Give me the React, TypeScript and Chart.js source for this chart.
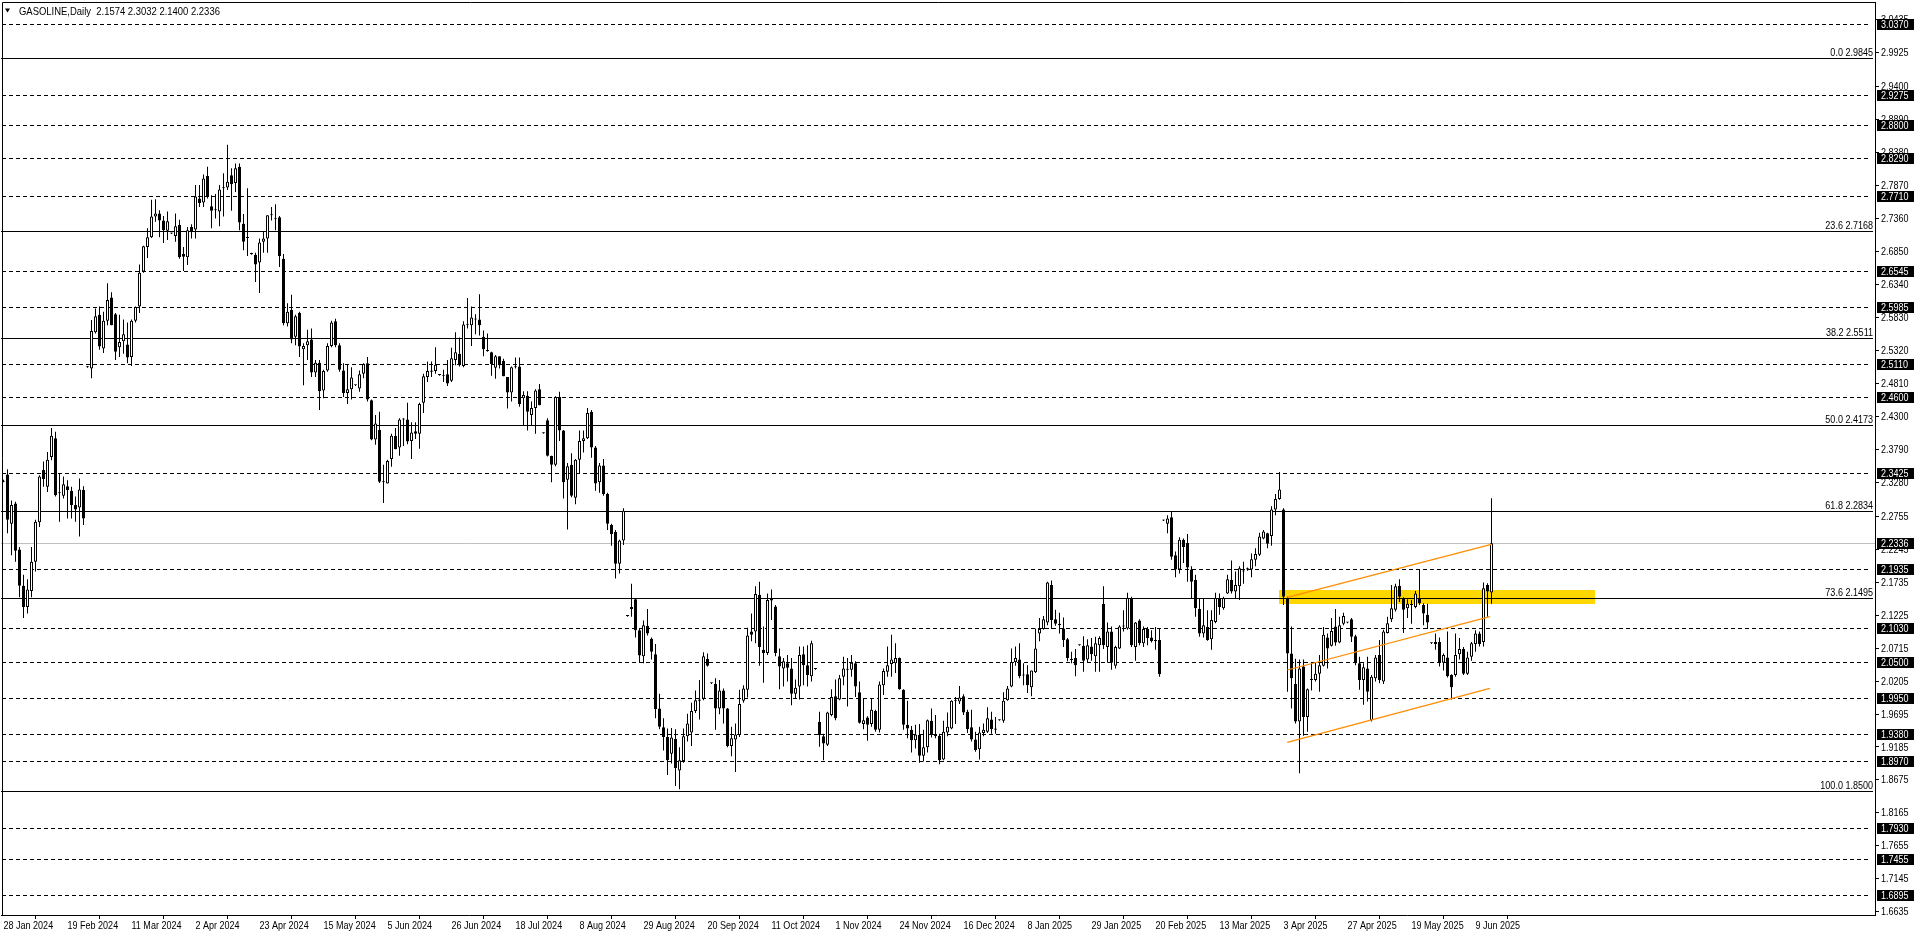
import React, { useEffect, useRef } from 'react';
import { Chart, registerables } from 'chart.js';

Chart.register(...registerables);

// ---------------- DATA ----------------
const OPEN = [
  2.330, 2.340, 2.264, 2.295, 2.224, 2.168, 2.135, 2.160, 2.205, 2.266,
  2.347, 2.321, 2.367, 2.396, 2.312, 2.307, 2.322, 2.315, 2.293, 2.289,
  2.316, 2.506, 2.504, 2.560, 2.587, 2.535, 2.578, 2.614, 2.588, 2.537,
  2.546, 2.541, 2.522, 2.578, 2.600, 2.654, 2.692, 2.707, 2.739, 2.744,
  2.733, 2.717, 2.713, 2.709, 2.726, 2.681, 2.676, 2.723, 2.719, 2.767,
  2.761, 2.802, 2.755, 2.749, 2.747, 2.783, 2.784, 2.803, 2.791, 2.816,
  2.728, 2.706, 2.681, 2.680, 2.668, 2.700, 2.705, 2.741, 2.735, 2.738,
  2.674, 2.574, 2.595, 2.553, 2.590, 2.534, 2.540, 2.549, 2.498, 2.513,
  2.470, 2.501, 2.539, 2.577, 2.540, 2.501, 2.466, 2.472, 2.478, 2.473,
  2.496, 2.512, 2.455, 2.394, 2.409, 2.329, 2.326, 2.364, 2.400, 2.382,
  2.425, 2.425, 2.392, 2.407, 2.403, 2.451, 2.491, 2.501, 2.500, 2.494,
  2.493, 2.495, 2.485, 2.517, 2.527, 2.508, 2.571, 2.571, 2.581, 2.580,
  2.553, 2.532, 2.529, 2.505, 2.523, 2.516, 2.491, 2.467, 2.506, 2.507,
  2.458, 2.462, 2.432, 2.443, 2.472, 2.404, 2.424, 2.369, 2.355, 2.460,
  2.408, 2.332, 2.355, 2.304, 2.363, 2.392, 2.396, 2.437, 2.382, 2.328,
  2.354, 2.310, 2.262, 2.251, 2.202, 2.238, 2.121, 2.132, 2.147, 2.099,
  2.059, 2.106, 2.086, 2.062, 1.978, 1.949, 1.934, 1.908, 1.931, 1.882,
  1.897, 1.935, 1.941, 1.974, 1.990, 1.993, 2.055, 2.017, 2.016, 1.978,
  2.006, 1.978, 1.920, 1.930, 1.937, 1.990, 2.007, 2.097, 2.097, 2.154,
  2.069, 2.064, 2.149, 2.136, 2.059, 2.040, 2.048, 2.040, 2.001, 2.012,
  2.062, 2.045, 2.028, 2.039, 1.957, 1.935, 1.922, 1.968, 1.997, 1.992,
  2.027, 2.038, 2.038, 2.048, 2.003, 1.954, 1.964, 1.954, 1.974, 1.945,
  2.014, 2.035, 2.047, 2.048, 2.056, 2.007, 1.953, 1.945, 1.929, 1.937,
  1.905, 1.918, 1.959, 1.937, 1.936, 1.899, 1.941, 1.947, 1.990, 1.989,
  1.997, 1.973, 1.949, 1.930, 1.915, 1.940, 1.942, 1.961, 1.947, 1.960,
  1.959, 1.991, 2.012, 2.050, 2.054, 2.030, 2.031, 2.011, 2.034, 2.094,
  2.101, 2.111, 2.169, 2.116, 2.109, 2.102, 2.085, 2.055, 2.056, 2.076,
  2.075, 2.054, 2.074, 2.059, 2.076, 2.140, 2.073, 2.097, 2.044, 2.071,
  2.105, 2.102, 2.149, 2.073, 2.114, 2.079, 2.101, 2.088, 2.084, 2.084,
  2.269, 2.264, 2.274, 2.215, 2.193, 2.239, 2.234, 2.193, 2.177, 2.132,
  2.094, 2.104, 2.085, 2.112, 2.149, 2.133, 2.156, 2.177, 2.159, 2.167,
  2.190, 2.193, 2.193, 2.208, 2.216, 2.241, 2.249, 2.245, 2.286, 2.302,
  2.286, 2.148, 2.063, 2.016, 1.958, 2.043, 1.965, 2.024, 2.022, 2.032,
  2.044, 2.088, 2.075, 2.105, 2.080, 2.109, 2.111, 2.116, 2.090, 2.048,
  2.022, 2.040, 1.960, 2.025, 2.061, 2.020, 2.095, 2.116, 2.131, 2.168,
  2.149, 2.133, 2.138, 2.135, 2.149, 2.138, 2.123, 2.079, 2.078, 2.081,
  2.049, 2.057, 2.030, 2.030, 2.062, 2.070, 2.032, 2.058, 2.078, 2.094,
  2.081, 2.169, 2.1574,
];

const HIGH = [
  2.332, 2.348, 2.300, 2.298, 2.228, 2.185, 2.178, 2.228, 2.270, 2.339,
  2.360, 2.375, 2.412, 2.406, 2.342, 2.337, 2.331, 2.321, 2.306, 2.334,
  2.322, 2.508, 2.579, 2.597, 2.600, 2.592, 2.636, 2.622, 2.590, 2.587,
  2.580, 2.575, 2.580, 2.600, 2.665, 2.694, 2.721, 2.765, 2.766, 2.749,
  2.740, 2.747, 2.714, 2.744, 2.734, 2.692, 2.723, 2.727, 2.788, 2.788,
  2.804, 2.816, 2.772, 2.774, 2.788, 2.806, 2.850, 2.814, 2.821, 2.821,
  2.743, 2.783, 2.683, 2.683, 2.705, 2.716, 2.741, 2.754, 2.758, 2.740,
  2.681, 2.605, 2.618, 2.587, 2.592, 2.543, 2.564, 2.566, 2.517, 2.517,
  2.502, 2.543, 2.578, 2.581, 2.543, 2.512, 2.510, 2.506, 2.479, 2.501,
  2.512, 2.522, 2.456, 2.432, 2.437, 2.355, 2.363, 2.403, 2.412, 2.427,
  2.427, 2.451, 2.421, 2.421, 2.451, 2.496, 2.515, 2.515, 2.537, 2.495,
  2.502, 2.517, 2.536, 2.560, 2.552, 2.577, 2.613, 2.600, 2.588, 2.619,
  2.563, 2.558, 2.530, 2.525, 2.523, 2.519, 2.491, 2.507, 2.521, 2.521,
  2.469, 2.469, 2.453, 2.472, 2.480, 2.405, 2.427, 2.369, 2.461, 2.468,
  2.409, 2.358, 2.373, 2.364, 2.408, 2.408, 2.443, 2.440, 2.384, 2.358,
  2.364, 2.312, 2.264, 2.254, 2.239, 2.288, 2.122, 2.171, 2.148, 2.102,
  2.114, 2.132, 2.088, 2.078, 2.001, 1.963, 1.947, 1.948, 1.946, 1.918,
  1.947, 1.970, 1.987, 2.006, 2.022, 2.065, 2.063, 2.018, 2.025, 2.022,
  2.009, 1.979, 1.950, 1.955, 2.007, 2.014, 2.103, 2.125, 2.167, 2.174,
  2.105, 2.156, 2.162, 2.138, 2.071, 2.056, 2.061, 2.056, 2.023, 2.074,
  2.074, 2.076, 2.083, 2.040, 1.973, 1.939, 1.973, 2.008, 2.023, 2.030,
  2.058, 2.056, 2.061, 2.051, 2.020, 1.994, 1.966, 1.994, 1.976, 2.020,
  2.040, 2.074, 2.092, 2.079, 2.057, 2.008, 1.990, 1.951, 1.953, 1.954,
  1.945, 1.961, 1.978, 1.968, 1.939, 1.959, 1.972, 1.991, 1.996, 2.013,
  2.000, 1.976, 1.976, 1.942, 1.950, 1.955, 1.980, 1.973, 1.965, 1.961,
  2.003, 2.013, 2.071, 2.074, 2.079, 2.048, 2.045, 2.037, 2.102, 2.118,
  2.121, 2.174, 2.176, 2.131, 2.126, 2.119, 2.087, 2.066, 2.070, 2.077,
  2.090, 2.085, 2.087, 2.089, 2.090, 2.167, 2.111, 2.105, 2.075, 2.107,
  2.130, 2.157, 2.151, 2.112, 2.116, 2.105, 2.104, 2.099, 2.104, 2.102,
  2.270, 2.277, 2.283, 2.221, 2.243, 2.241, 2.248, 2.198, 2.185, 2.148,
  2.148, 2.130, 2.130, 2.157, 2.156, 2.151, 2.185, 2.207, 2.190, 2.198,
  2.205, 2.196, 2.218, 2.226, 2.250, 2.254, 2.250, 2.291, 2.310, 2.344,
  2.288, 2.151, 2.105, 2.055, 2.054, 2.054, 2.009, 2.050, 2.050, 2.061,
  2.104, 2.094, 2.118, 2.132, 2.120, 2.126, 2.112, 2.118, 2.092, 2.058,
  2.048, 2.058, 2.030, 2.061, 2.084, 2.100, 2.120, 2.169, 2.171, 2.178,
  2.150, 2.147, 2.146, 2.160, 2.193, 2.141, 2.140, 2.080, 2.094, 2.088,
  2.063, 2.097, 2.031, 2.094, 2.087, 2.073, 2.066, 2.081, 2.099, 2.097,
  2.173, 2.172, 2.3032,
];

const LOW = [
  2.328, 2.249, 2.215, 2.205, 2.150, 2.118, 2.125, 2.150, 2.190, 2.259,
  2.321, 2.313, 2.362, 2.306, 2.267, 2.303, 2.272, 2.272, 2.267, 2.244,
  2.262, 2.505, 2.489, 2.558, 2.533, 2.528, 2.571, 2.571, 2.517, 2.522,
  2.527, 2.512, 2.508, 2.575, 2.590, 2.652, 2.675, 2.706, 2.731, 2.707,
  2.698, 2.703, 2.712, 2.700, 2.674, 2.655, 2.664, 2.705, 2.705, 2.754,
  2.754, 2.767, 2.721, 2.736, 2.724, 2.739, 2.780, 2.748, 2.777, 2.718,
  2.687, 2.678, 2.680, 2.638, 2.621, 2.683, 2.683, 2.733, 2.718, 2.661,
  2.571, 2.569, 2.543, 2.540, 2.522, 2.478, 2.517, 2.491, 2.491, 2.440,
  2.458, 2.499, 2.537, 2.537, 2.499, 2.460, 2.449, 2.456, 2.477, 2.468,
  2.489, 2.453, 2.393, 2.386, 2.327, 2.296, 2.326, 2.352, 2.379, 2.369,
  2.384, 2.387, 2.364, 2.395, 2.380, 2.435, 2.483, 2.491, 2.496, 2.493,
  2.483, 2.477, 2.483, 2.509, 2.507, 2.506, 2.566, 2.539, 2.557, 2.555,
  2.523, 2.530, 2.493, 2.488, 2.504, 2.492, 2.442, 2.453, 2.504, 2.445,
  2.416, 2.408, 2.416, 2.403, 2.447, 2.403, 2.368, 2.328, 2.353, 2.392,
  2.303, 2.255, 2.305, 2.294, 2.342, 2.374, 2.395, 2.366, 2.315, 2.312,
  2.307, 2.254, 2.230, 2.179, 2.187, 2.231, 2.120, 2.120, 2.088, 2.050,
  2.048, 2.091, 2.054, 1.963, 1.946, 1.913, 1.875, 1.893, 1.858, 1.853,
  1.894, 1.927, 1.920, 1.971, 1.961, 1.991, 2.043, 2.016, 1.945, 1.969,
  1.955, 1.918, 1.904, 1.880, 1.934, 1.987, 1.995, 2.082, 2.079, 2.044,
  2.018, 2.061, 2.115, 2.059, 2.008, 2.012, 2.020, 1.983, 1.994, 1.992,
  2.014, 2.012, 2.020, 2.038, 1.919, 1.898, 1.920, 1.966, 1.960, 1.991,
  2.014, 1.981, 2.027, 1.996, 1.955, 1.946, 1.928, 1.950, 1.942, 1.941,
  1.999, 2.027, 2.027, 2.033, 2.007, 1.945, 1.932, 1.910, 1.916, 1.894,
  1.896, 1.910, 1.933, 1.932, 1.892, 1.898, 1.935, 1.946, 1.954, 1.985,
  1.968, 1.940, 1.927, 1.911, 1.899, 1.935, 1.940, 1.939, 1.939, 1.959,
  1.956, 1.990, 2.011, 2.044, 2.025, 2.014, 2.002, 1.997, 2.033, 2.082,
  2.100, 2.107, 2.101, 2.106, 2.094, 2.073, 2.051, 2.048, 2.028, 2.075,
  2.035, 2.050, 2.052, 2.035, 2.035, 2.070, 2.049, 2.038, 2.040, 2.070,
  2.097, 2.100, 2.073, 2.052, 2.076, 2.073, 2.076, 2.080, 2.069, 2.027,
  2.268, 2.249, 2.208, 2.181, 2.187, 2.203, 2.174, 2.148, 2.120, 2.089,
  2.088, 2.083, 2.069, 2.110, 2.123, 2.131, 2.155, 2.156, 2.148, 2.146,
  2.171, 2.191, 2.181, 2.198, 2.214, 2.240, 2.226, 2.230, 2.277, 2.301,
  2.138, 2.004, 1.978, 1.955, 1.878, 1.936, 1.942, 2.006, 2.020, 2.004,
  2.043, 2.040, 2.074, 2.075, 2.079, 2.107, 2.110, 2.081, 2.045, 2.007,
  1.984, 1.989, 1.958, 2.020, 2.017, 2.016, 2.094, 2.112, 2.128, 2.143,
  2.095, 2.118, 2.109, 2.133, 2.138, 2.107, 2.101, 2.078, 2.069, 2.043,
  2.037, 2.026, 1.992, 2.027, 2.054, 2.030, 2.030, 2.052, 2.066, 2.074,
  2.074, 2.120, 2.1400,
];

const CLOSE = [
  2.329, 2.270, 2.293, 2.222, 2.168, 2.135, 2.162, 2.205, 2.267, 2.337,
  2.333, 2.363, 2.400, 2.308, 2.311, 2.325, 2.316, 2.293, 2.286, 2.317,
  2.272, 2.506, 2.562, 2.585, 2.538, 2.578, 2.610, 2.571, 2.530, 2.545,
  2.557, 2.521, 2.578, 2.599, 2.652, 2.693, 2.707, 2.739, 2.744, 2.733,
  2.718, 2.732, 2.713, 2.724, 2.676, 2.677, 2.718, 2.716, 2.770, 2.760,
  2.798, 2.770, 2.748, 2.749, 2.781, 2.783, 2.793, 2.789, 2.814, 2.730,
  2.700, 2.706, 2.681, 2.665, 2.699, 2.705, 2.741, 2.741, 2.735, 2.678,
  2.574, 2.592, 2.549, 2.585, 2.538, 2.539, 2.546, 2.498, 2.513, 2.469,
  2.500, 2.539, 2.575, 2.540, 2.502, 2.466, 2.472, 2.490, 2.478, 2.495,
  2.511, 2.456, 2.394, 2.419, 2.329, 2.328, 2.361, 2.400, 2.379, 2.425,
  2.425, 2.391, 2.405, 2.403, 2.449, 2.492, 2.500, 2.499, 2.510, 2.494,
  2.494, 2.481, 2.520, 2.529, 2.509, 2.572, 2.572, 2.583, 2.580, 2.571,
  2.534, 2.531, 2.511, 2.523, 2.509, 2.492, 2.467, 2.506, 2.506, 2.449,
  2.463, 2.437, 2.443, 2.470, 2.447, 2.404, 2.369, 2.355, 2.460, 2.408,
  2.328, 2.353, 2.307, 2.363, 2.392, 2.396, 2.435, 2.382, 2.326, 2.354,
  2.310, 2.264, 2.248, 2.202, 2.238, 2.284, 2.121, 2.135, 2.099, 2.060,
  2.107, 2.094, 2.066, 1.977, 1.950, 1.934, 1.898, 1.933, 1.886, 1.898,
  1.935, 1.955, 1.974, 1.991, 1.992, 2.059, 2.044, 2.017, 1.978, 2.006,
  1.978, 1.920, 1.932, 1.938, 1.985, 2.009, 2.091, 2.092, 2.155, 2.073,
  2.064, 2.146, 2.145, 2.064, 2.043, 2.051, 2.041, 2.001, 2.010, 2.061,
  2.045, 2.030, 2.079, 2.039, 1.937, 1.924, 1.972, 1.996, 1.963, 2.025,
  2.040, 2.038, 2.049, 2.012, 1.956, 1.960, 1.953, 1.976, 1.945, 2.015,
  2.036, 2.045, 2.054, 2.056, 2.008, 1.953, 1.947, 1.929, 1.938, 1.905,
  1.918, 1.960, 1.937, 1.935, 1.898, 1.942, 1.950, 1.990, 1.990, 1.995,
  1.972, 1.946, 1.930, 1.914, 1.941, 1.945, 1.963, 1.946, 1.945, 1.960,
  1.990, 2.009, 2.050, 2.056, 2.028, 2.029, 2.014, 2.037, 2.071, 2.101,
  2.116, 2.173, 2.115, 2.109, 2.107, 2.084, 2.056, 2.053, 2.045, 2.076,
  2.052, 2.076, 2.062, 2.079, 2.087, 2.076, 2.097, 2.049, 2.073, 2.105,
  2.105, 2.149, 2.076, 2.111, 2.079, 2.101, 2.087, 2.082, 2.082, 2.031,
  2.269, 2.272, 2.213, 2.193, 2.239, 2.228, 2.196, 2.174, 2.133, 2.094,
  2.107, 2.084, 2.115, 2.149, 2.135, 2.149, 2.178, 2.159, 2.169, 2.195,
  2.191, 2.195, 2.209, 2.217, 2.244, 2.252, 2.233, 2.286, 2.302, 2.317,
  2.151, 2.063, 2.025, 1.958, 2.040, 1.965, 2.008, 2.022, 2.032, 2.045,
  2.092, 2.071, 2.098, 2.080, 2.107, 2.121, 2.111, 2.089, 2.048, 2.022,
  2.042, 2.004, 2.027, 2.057, 2.022, 2.097, 2.110, 2.133, 2.167, 2.151,
  2.131, 2.140, 2.138, 2.156, 2.141, 2.125, 2.111, 2.079, 2.081, 2.050,
  2.061, 2.028, 2.011, 2.061, 2.070, 2.032, 2.057, 2.079, 2.094, 2.078,
  2.164, 2.159, 2.2336,
];

const X_TICK_BARS = [0, 16, 32, 48, 64, 80, 96, 112, 128, 144, 160, 176, 192, 208, 224, 240, 256, 272, 288, 304, 320, 336, 352, 368];
const X_TICK_LABELS = [
  '28 Jan 2024', '19 Feb 2024', '11 Mar 2024', '2 Apr 2024', '23 Apr 2024', '15 May 2024',
  '5 Jun 2024', '26 Jun 2024', '18 Jul 2024', '8 Aug 2024', '29 Aug 2024', '20 Sep 2024',
  '11 Oct 2024', '1 Nov 2024', '24 Nov 2024', '16 Dec 2024', '8 Jan 2025', '29 Jan 2025',
  '20 Feb 2025', '13 Mar 2025', '3 Apr 2025', '27 Apr 2025', '19 May 2025', '9 Jun 2025',
];

const Y_TICKS = [
  3.0435, 2.9925, 2.9400, 2.8890, 2.8380, 2.7870, 2.7360, 2.6850, 2.6340, 2.5830,
  2.5320, 2.4810, 2.4300, 2.3790, 2.3280, 2.2755, 2.2245, 2.1735, 2.1225, 2.0715,
  2.0205, 1.9695, 1.9185, 1.8675, 1.8165, 1.7655, 1.7145, 1.6635,
];

const DASHED_LEVELS = [
  3.0370, 2.9275, 2.8800, 2.8290, 2.7710, 2.6545, 2.5985, 2.5110, 2.4600, 2.3425,
  2.1935, 2.1030, 2.0500, 1.9950, 1.9380, 1.8970, 1.7930, 1.7455, 1.6895,
];

const FIB_PCTS = [0.0, 23.6, 38.2, 50.0, 61.8, 73.6, 100.0];
const FIB_PRICES = [2.9845, 2.7168, 2.5511, 2.4173, 2.2834, 2.1495, 1.8500];

const LAST_PRICE = 2.2336;
const TITLE = 'GASOLINE,Daily  2.1574 2.3032 2.1400 2.2336';

const ZONE_BARS = [318.9, 397.9];
const ZONE_PRICES = [2.140, 2.162];

const CHANNEL_UPPER = [{ x: 320.95, y: 2.150 }, { x: 371.95, y: 2.232 }];
const CHANNEL_MIDDLE = [{ x: 320.95, y: 2.0376 }, { x: 371.6, y: 2.1202 }];
const CHANNEL_LOWER = [{ x: 320.95, y: 1.9257 }, { x: 371.6, y: 2.0093 }];

// ---------------- STYLE ----------------
const FAMILY = "'Liberation Sans', Arial, sans-serif";
const FONT = `11px ${FAMILY}`;
const SX = 0.82; // horizontal condensing of the small terminal font
const W = 1916;
const H = 936;

function drawText(ctx: CanvasRenderingContext2D, text: string, x: number, y: number, align: CanvasTextAlign, color: string, sx = SX) {
  ctx.save();
  ctx.translate(x, y);
  ctx.scale(sx, 1);
  ctx.fillStyle = color;
  ctx.textAlign = align;
  ctx.fillText(text, 0, 0);
  ctx.restore();
}

const overlay = {
  id: 'overlay',
  beforeDraw(chart: any) {
    const { ctx } = chart;
    ctx.save();
    ctx.fillStyle = '#ffffff';
    ctx.fillRect(0, 0, chart.width, chart.height);
    ctx.restore();
  },
  beforeDatasetsDraw(chart: any) {
    const { ctx, chartArea: a, scales } = chart;
    const x = scales.x;
    const y = scales.y;
    ctx.save();
    ctx.beginPath();
    ctx.rect(a.left, a.top, a.right - a.left, a.bottom - a.top);
    ctx.clip();

    // yellow zone
    const zx0 = x.getPixelForValue(ZONE_BARS[0]);
    const zx1 = x.getPixelForValue(ZONE_BARS[1]);
    const zy0 = y.getPixelForValue(ZONE_PRICES[1]);
    const zy1 = y.getPixelForValue(ZONE_PRICES[0]);
    ctx.fillStyle = '#FFD700';
    ctx.fillRect(Math.round(zx0), Math.round(zy0), Math.round(zx1 - zx0), Math.round(zy1 - zy0));

    // last price line
    ctx.strokeStyle = '#C0C0C0';
    ctx.lineWidth = 1;
    let py = Math.round(y.getPixelForValue(LAST_PRICE)) + 0.5;
    ctx.beginPath();
    ctx.moveTo(a.left, py);
    ctx.lineTo(a.right, py);
    ctx.stroke();

    // dashed horizontal levels
    ctx.strokeStyle = '#000000';
    ctx.setLineDash([4, 3]);
    for (const v of DASHED_LEVELS) {
      py = Math.round(y.getPixelForValue(v)) + 0.5;
      ctx.beginPath();
      ctx.moveTo(a.left + 1, py);
      ctx.lineTo(a.right - 4, py);
      ctx.stroke();
    }
    ctx.setLineDash([]);

    // fibonacci levels
    ctx.font = FONT;
    ctx.textBaseline = 'alphabetic';
    FIB_PRICES.forEach((v, i) => {
      py = Math.round(y.getPixelForValue(v)) + 0.5;
      ctx.beginPath();
      ctx.moveTo(a.left, py);
      ctx.lineTo(a.right - 2, py);
      ctx.stroke();
      drawText(ctx, `${FIB_PCTS[i].toFixed(1)} ${v.toFixed(4)}`, a.right - 2, py - 2.5, 'right', '#000000');
    });
    ctx.restore();
  },
  afterDraw(chart: any) {
    const { ctx, chartArea: a, scales } = chart;
    const x = scales.x;
    const y = scales.y;
    ctx.save();
    // frame top & left
    ctx.strokeStyle = '#000000';
    ctx.lineWidth = 1;
    ctx.beginPath();
    ctx.moveTo(a.left + 1.5, a.bottom);
    ctx.lineTo(a.left + 1.5, a.top + 0.5);
    ctx.lineTo(a.right, a.top + 0.5);
    ctx.stroke();

    ctx.font = FONT;
    ctx.textBaseline = 'middle';

    // y tick labels from the scale's ticks
    y.ticks.forEach((t: any) => {
      const py = y.getPixelForValue(t.value);
      drawText(ctx, Number(t.value).toFixed(4), a.right + 6, py + 0.5, 'left', '#000000');
    });

    // x tick labels from the scale's ticks
    x.ticks.forEach((t: any, i: number) => {
      const px = x.getPixelForValue(t.value);
      drawText(ctx, X_TICK_LABELS[i], px, a.bottom + 11, 'left', '#000000');
    });

    // price boxes on the axis
    const boxes = [...DASHED_LEVELS, LAST_PRICE];
    for (const v of boxes) {
      const py = Math.round(y.getPixelForValue(v));
      ctx.fillStyle = '#000000';
      ctx.fillRect(a.right + 2, py - 5, 37, 11);
      drawText(ctx, v.toFixed(4), a.right + 6, py + 0.5, 'left', '#ffffff');
    }

    // title
    ctx.fillStyle = '#000000';
    ctx.beginPath();
    ctx.moveTo(5, 8.5);
    ctx.lineTo(10, 8.5);
    ctx.lineTo(7.5, 12.5);
    ctx.closePath();
    ctx.fill();
    ctx.textBaseline = 'alphabetic';
    drawText(ctx, TITLE, 19, 15, 'left', '#000000', 0.86);
    ctx.restore();
  },
};

export default function App() {
  const ref = useRef<HTMLCanvasElement | null>(null);

  useEffect(() => {
    if (!ref.current) return;
    const idx = OPEN.map((_, i) => i);
    const wicks = idx.map((i) => ({ x: i, y: [LOW[i], HIGH[i]] }));
    const bodies = idx.map((i) => ({ x: i, y: [Math.min(OPEN[i], CLOSE[i]), Math.max(OPEN[i], CLOSE[i])] }));
    const bodyColors = idx.map((i) => (CLOSE[i] >= OPEN[i] ? '#ffffff' : '#000000'));

    const chanDs = (data: any) => ({
      type: 'line',
      data,
      borderColor: '#FF8C00',
      borderWidth: 1.2,
      pointRadius: 0,
      fill: false,
      order: 0,
    });

    const chart = new Chart(ref.current, {
      type: 'bar',
      data: {
        datasets: [
          {
            type: 'bar',
            data: wicks,
            backgroundColor: '#000000',
            borderWidth: 0,
            barThickness: 1,
            grouped: false,
            inflateAmount: 0,
            order: 2,
          } as any,
          {
            type: 'bar',
            data: bodies,
            backgroundColor: bodyColors,
            borderColor: '#000000',
            borderWidth: 1,
            borderSkipped: false,
            barThickness: 3,
            minBarLength: 1,
            grouped: false,
            inflateAmount: 0,
            order: 1,
          } as any,
          chanDs(CHANNEL_UPPER) as any,
          chanDs(CHANNEL_MIDDLE) as any,
          chanDs(CHANNEL_LOWER) as any,
        ],
      },
      options: {
        responsive: false,
        devicePixelRatio: 1,
        animation: false,
        events: [],
        layout: { padding: { left: 1, top: 2, right: 0, bottom: 0 } },
        plugins: { legend: { display: false }, tooltip: { enabled: false }, title: { display: false } },
        scales: {
          x: {
            type: 'linear',
            min: -0.625,
            max: 467.875,
            offset: false,
            position: 'bottom',
            border: { display: true, color: '#000000', width: 1 },
            grid: { display: true, drawOnChartArea: false, drawTicks: true, tickLength: 4, color: '#000000' },
            ticks: { display: false, autoSkip: false, maxRotation: 0, minRotation: 0 },
            afterBuildTicks: (s: any) => {
              s.ticks = X_TICK_BARS.map((v) => ({ value: v }));
            },
            afterFit: (s: any) => {
              s.height = 21;
              s.paddingLeft = 0;
              s.paddingRight = 0;
            },
          } as any,
          y: {
            type: 'linear',
            position: 'right',
            min: 1.6586,
            max: 3.0710,
            border: { display: true, color: '#000000', width: 1 },
            grid: { display: true, drawOnChartArea: false, drawTicks: true, tickLength: 4, color: '#000000' },
            ticks: { display: false, autoSkip: false },
            afterBuildTicks: (s: any) => {
              s.ticks = Y_TICKS.map((v) => ({ value: v }));
            },
            afterFit: (s: any) => {
              s.width = 41;
              s.paddingTop = 0;
              s.paddingBottom = 0;
            },
          } as any,
        },
      },
      plugins: [overlay],
    } as any);

    return () => chart.destroy();
  }, []);

  return (
    <div style={{ position: 'absolute', left: 0, top: 0, width: W, height: H, background: '#ffffff' }}>
      <canvas ref={ref} width={W} height={H} style={{ width: W, height: H, display: 'block' }} />
    </div>
  );
}
